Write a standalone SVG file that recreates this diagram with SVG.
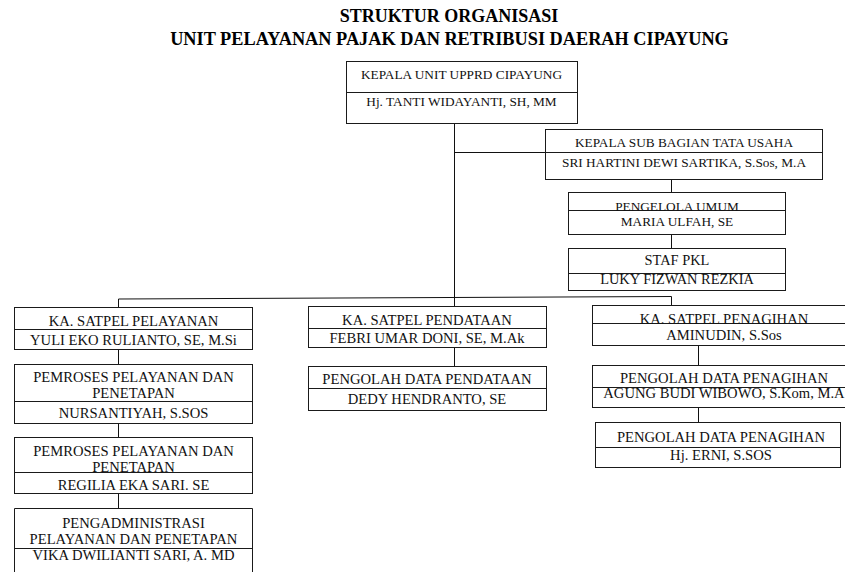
<svg xmlns="http://www.w3.org/2000/svg" width="845" height="572" viewBox="0 0 845 572">
<style>
.bg{fill:#fff}
.box{fill:#fff;stroke:#1a1a1a;stroke-width:1}
.div{stroke:#1a1a1a;stroke-width:1}
.ln{stroke:#111;stroke-width:1;fill:none}
.t{font-family:"Liberation Serif","Times New Roman",serif;fill:#111;text-anchor:middle}
.s{font-size:13.3px}
.m{font-size:14.6px}
.title{font-family:"Liberation Serif","Times New Roman",serif;font-weight:bold;font-size:18px;fill:#000;text-anchor:middle}
</style>
<rect class="bg" x="0" y="0" width="845" height="572"/>
<g id="title">
<text class="title" x="449" y="22">STRUKTUR ORGANISASI</text>
<text class="title" x="449.5" y="45" style="font-size:18.3px">UNIT PELAYANAN PAJAK DAN RETRIBUSI DAERAH CIPAYUNG</text>
</g>
<g id="connectors">
<path class="ln" d="M454.5 123V306"/>
<path class="ln" d="M454.5 152.5H545"/>
<path class="ln" d="M671.5 179V192"/>
<path class="ln" d="M671.5 234V248"/>
<path class="ln" d="M118.5 307V299L671.5 296.5V305"/>
<path class="ln" d="M118.5 349V364"/>
<path class="ln" d="M118.5 423V437"/>
<path class="ln" d="M118.5 493V508"/>
<path class="ln" d="M454.5 348V366"/>
<path class="ln" d="M698.5 345V365"/>
<path class="ln" d="M698.5 407V422"/>
</g>
<g id="kepala">
<rect class="box" x="346.5" y="61.5" width="231" height="62"/>
<line class="div" x1="346.5" y1="92.5" x2="577.5" y2="92.5"/>
<text class="t s" x="461.5" y="79">KEPALA UNIT UPPRD CIPAYUNG</text>
<text class="t s" x="461.5" y="105.5">Hj. TANTI WIDAYANTI, SH, MM</text>
</g>
<g id="subbag">
<rect class="box" x="545.5" y="129.5" width="277" height="50"/>
<line class="div" x1="545.5" y1="152.5" x2="822.5" y2="152.5"/>
<text class="t s" x="684" y="146.5">KEPALA SUB BAGIAN TATA USAHA</text>
<text class="t s" x="684" y="167">SRI HARTINI DEWI SARTIKA, S.Sos, M.A</text>
</g>
<g id="pengelola">
<rect class="box" x="568.5" y="192.5" width="217" height="42"/>
<line class="div" x1="568.5" y1="210.5" x2="785.5" y2="210.5"/>
<text class="t s" x="677" y="211">PENGELOLA UMUM</text>
<text class="t s" x="677" y="226">MARIA ULFAH, SE</text>
</g>
<g id="staf">
<rect class="box" x="568.5" y="248.5" width="217" height="42"/>
<line class="div" x1="568.5" y1="273.5" x2="785.5" y2="273.5"/>
<text class="t" x="677" y="265" style="font-size:14.4px">STAF PKL</text>
<text class="t" x="677" y="283.5" style="font-size:14.4px">LUKY FIZWAN REZKIA</text>
</g>
<g id="satpel-pelayanan">
<rect class="box" x="14.5" y="307.5" width="238" height="42"/>
<line class="div" x1="14.5" y1="329.5" x2="252.5" y2="329.5"/>
<text class="t m" x="133.5" y="326">KA. SATPEL PELAYANAN</text>
<text class="t m" x="133.5" y="345">YULI EKO RULIANTO, SE, M.Si</text>
</g>
<g id="pemroses-1">
<rect class="box" x="14.5" y="364.5" width="238" height="59"/>
<line class="div" x1="14.5" y1="401.5" x2="252.5" y2="401.5"/>
<text class="t m" x="133.5" y="382">PEMROSES PELAYANAN DAN</text>
<text class="t m" x="133.5" y="398">PENETAPAN</text>
<text class="t m" x="133.5" y="418">NURSANTIYAH, S.SOS</text>
</g>
<g id="pemroses-2">
<rect class="box" x="14.5" y="437.5" width="238" height="56"/>
<line class="div" x1="14.5" y1="472.5" x2="252.5" y2="472.5"/>
<text class="t m" x="133.5" y="456">PEMROSES PELAYANAN DAN</text>
<text class="t m" x="133.5" y="472">PENETAPAN</text>
<text class="t m" x="133.5" y="490">REGILIA EKA SARI. SE</text>
</g>
<g id="pengadministrasi">
<path class="box" d="M14.5 580V508.5H252.5V580"/>
<line class="div" x1="14.5" y1="548.5" x2="252.5" y2="548.5"/>
<text class="t m" x="133.5" y="528">PENGADMINISTRASI</text>
<text class="t m" x="133.5" y="543.5">PELAYANAN DAN PENETAPAN</text>
<text class="t m" x="133.5" y="559.5">VIKA DWILIANTI SARI, A. MD</text>
</g>
<g id="satpel-pendataan">
<rect class="box" x="308.5" y="306.5" width="238" height="41"/>
<line class="div" x1="308.5" y1="328.5" x2="546.5" y2="328.5"/>
<text class="t m" x="427" y="325">KA. SATPEL PENDATAAN</text>
<text class="t m" x="427" y="343">FEBRI UMAR DONI, SE, M.Ak</text>
</g>
<g id="pengolah-pendataan">
<rect class="box" x="308.5" y="366.5" width="238" height="44"/>
<line class="div" x1="308.5" y1="388.5" x2="546.5" y2="388.5"/>
<text class="t m" x="427" y="384">PENGOLAH DATA PENDATAAN</text>
<text class="t m" x="427" y="404">DEDY HENDRANTO, SE</text>
</g>
<g id="satpel-penagihan">
<rect class="box" x="592.5" y="305.5" width="264" height="40"/>
<line class="div" x1="592.5" y1="323.5" x2="856" y2="323.5"/>
<text class="t m" x="724" y="324">KA. SATPEL PENAGIHAN</text>
<text class="t m" x="724" y="340">AMINUDIN, S.Sos</text>
</g>
<g id="pengolah-penagihan-1">
<rect class="box" x="592.5" y="365.5" width="264" height="42"/>
<line class="div" x1="592.5" y1="387.5" x2="856" y2="387.5"/>
<text class="t m" x="724" y="383">PENGOLAH DATA PENAGIHAN</text>
<text class="t m" x="724" y="398">AGUNG BUDI WIBOWO, S.Kom, M.A</text>
</g>
<g id="pengolah-penagihan-2">
<rect class="box" x="595.5" y="422.5" width="245" height="45"/>
<line class="div" x1="595.5" y1="447.5" x2="840.5" y2="447.5"/>
<text class="t m" x="721" y="442">PENGOLAH DATA PENAGIHAN</text>
<text class="t m" x="721" y="460">Hj. ERNI, S.SOS</text>
</g>
</svg>
